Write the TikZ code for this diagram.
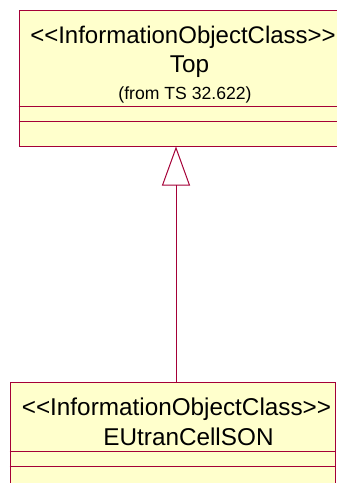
\documentclass[tikz,border=0pt]{standalone}
\usepackage{fontspec}
\setmainfont{Liberation Sans}
\usetikzlibrary{arrows.meta,positioning,calc}
\definecolor{umlline}{RGB}{165,0,55}
\definecolor{umlfill}{RGB}{255,255,204}

\begin{document}
\begin{tikzpicture}[x=1pt,y=-1pt,line width=1pt]
    \useasboundingbox (0,0) rectangle (337,483);
    \node[rectangle,draw=umlline,fill=umlfill,minimum width=341pt,minimum height=136pt](top) at (189.5,78){};
    \node[rectangle,draw=umlline,fill=umlfill,minimum width=325pt,minimum height=158pt](eut) at (172.5,461){};
    % compartments
    \draw[umlline] ([yshift=40pt]top.south west) -- ([yshift=40pt]top.south east);
    \draw[umlline] ([yshift=25pt]top.south west) -- ([yshift=25pt]top.south east);
    \draw[umlline] ([yshift=-70pt]eut.north west) -- ([yshift=-70pt]eut.north east);
    \draw[umlline] ([yshift=-85pt]eut.north west) -- ([yshift=-85pt]eut.north east);
    % texts
    \node[anchor=base,font=\fontsize{24}{28}\selectfont](topster) at (183,43){<{}<InformationObjectClass>{}>};
    \node[anchor=base,font=\fontsize{24.3}{28}\selectfont](topname) at (189.5,72){Top};
    \node[anchor=base,font=\fontsize{17.6}{20}\selectfont](topfrom) at (185,99){(from TS 32.622)};
    \node[anchor=base,font=\fontsize{24.3}{28}\selectfont](eutster) at (176.5,415){<{}<InformationObjectClass>{}>};
    \node[anchor=base,font=\fontsize{24.3}{28}\selectfont](eutname) at (188.5,445){EUtranCellSON};
    % generalization
    \coordinate (gen) at (176,0);
    \draw[umlline,-{Triangle[open,length=39pt,width=28pt]}] (gen |- eut.north) -- (gen |- top.south);
\end{tikzpicture}
\end{document}
